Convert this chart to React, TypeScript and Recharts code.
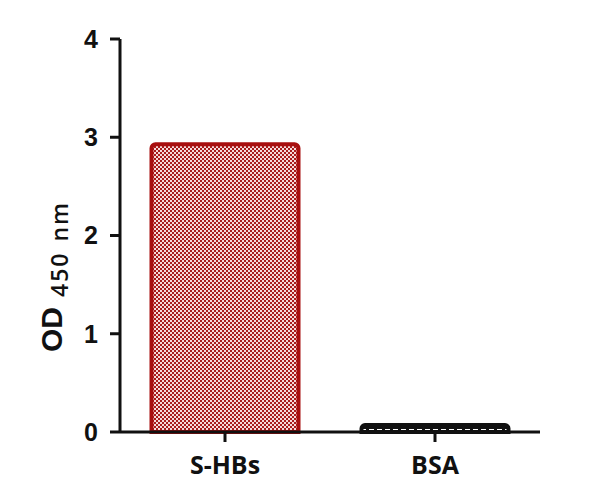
import { BarChart, Bar, XAxis, YAxis, Cell } from "recharts";

const categories = ["S-HBs", "BSA"];
const odValues = [2.93, 0.07];
const yTicks = [0, 1, 2, 3, 4];

const data = categories.map((name, i) => ({ name, od: odValues[i] }));

const barStroke = ["#a80f0f", "#111111"];
const barFill = ["url(#redCheck)", "url(#blackCheck)"];

function YLabel() {
  return (
    <text
      x={62}
      y={352}
      transform="rotate(-90, 62, 352)"
      textAnchor="start"
      fontFamily="Liberation Sans, Arial, sans-serif"
      fill="#111"
    >
      <tspan fontSize={30} fontWeight="bold">OD</tspan>
      <tspan dx={10} fontSize={23} dy={6} fontFamily="Open Sans, sans-serif" fontWeight={600} letterSpacing={2}>450</tspan>
      <tspan dx={10} fontSize={23} fontFamily="Open Sans, sans-serif" fontWeight={600} letterSpacing={2}>nm</tspan>
    </text>
  );
}

export default function App() {
  return (
    <div style={{ position: "absolute", left: 0, top: 0, background: "#fff" }}>
      <BarChart
        width={603}
        height={500}
        data={data}
        margin={{ top: 39, right: 63, left: 60, bottom: 20 }}
        barCategoryGap="15%"
      >
        <defs>
          <pattern id="redCheck" width={4} height={4} patternUnits="userSpaceOnUse">
            <rect width={4} height={4} fill="#f6dada" />
            <rect width={2} height={2} fill="#a81c1c" />
            <rect x={2} y={2} width={2} height={2} fill="#a81c1c" />
          </pattern>
          <pattern id="blackCheck" width={8} height={4} patternUnits="userSpaceOnUse">
            <rect width={8} height={4} fill="#111" />
            <rect x={1} y={1} width={5} height={2} fill="#fff" />
          </pattern>
        </defs>
        <XAxis
          dataKey="name"
          height={48}
          axisLine={{ stroke: "#111", strokeWidth: 3 }}
          tickLine={{ stroke: "#111", strokeWidth: 3 }}
          tickSize={10}
          tickMargin={14}
          tick={{ fontSize: 25, fontWeight: "bold", fill: "#111", fontFamily: "Open Sans, sans-serif" }}
        />
        <YAxis
          domain={[0, 4]}
          ticks={yTicks}
          width={60}
          axisLine={{ stroke: "#111", strokeWidth: 3 }}
          tickLine={{ stroke: "#111", strokeWidth: 3 }}
          tickSize={10}
          tickMargin={12}
          tick={{ fontSize: 25, fontWeight: "bold", fill: "#111", fontFamily: "Liberation Sans, Arial, sans-serif" }}
          label={<YLabel />}
        />
        <Bar dataKey="od" isAnimationActive={false} strokeWidth={4} radius={[4, 4, 0, 0]}>
          {data.map((d, i) => (
            <Cell key={d.name} fill={barFill[i]} stroke={barStroke[i]} />
          ))}
        </Bar>
      </BarChart>
    </div>
  );
}
